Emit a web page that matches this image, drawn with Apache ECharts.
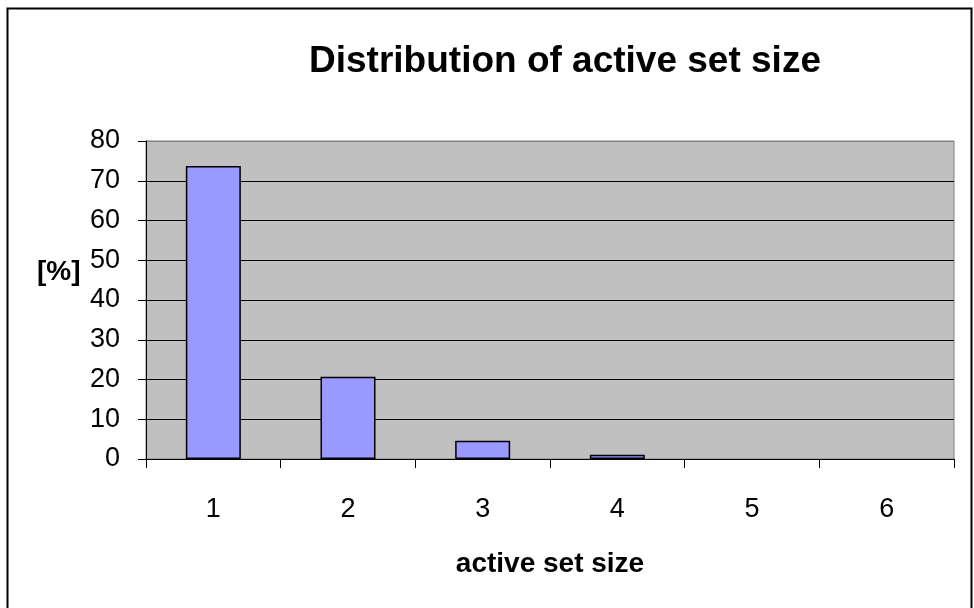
<!DOCTYPE html>
<html>
<head>
<meta charset="utf-8">
<script src="https://cdn.jsdelivr.net/npm/echarts@6/dist/echarts.min.js"></script>
<style>
  html, body { margin: 0; padding: 0; background: #fff; }
  #chart { width: 974px; height: 608px; }
</style>
</head>
<body>
<div id="chart"></div>
<script>
var categories = ['1', '2', '3', '4', '5', '6'];
var shares = [73.7, 20.7, 4.6, 1.1, 0, 0];
var yTicks = [0, 80, 10];

var chart = echarts.init(document.getElementById('chart'));
var font = 'Liberation Sans, Arial, sans-serif';

// zero bars have no visible outline in the original
var barData = shares.map(function (v) {
  return v === 0 ? { value: v, itemStyle: { borderWidth: 0 } } : v;
});

var option = {
  animation: false,
  backgroundColor: '#fff',
  title: {
    text: 'Distribution of active set size',
    left: 560,
    top: 38,
    textAlign: 'center',
    textStyle: { fontFamily: font, fontSize: 37, fontWeight: 'bold', color: '#000' }
  },
  graphic: [
    {
      type: 'rect',
      shape: { x: 7.5, y: 8.5, width: 964, height: 620 },
      style: { fill: 'none', stroke: '#000', lineWidth: 2 },
      z: 100
    },
    {
      type: 'text',
      left: 37,
      top: 258,
      style: { text: '[%]', fontFamily: font, fontSize: 28, fontWeight: 'bold', fill: '#000' }
    }
  ],
  grid: {
    left: 146, top: 141, right: 20, bottom: 149,
    show: true,
    backgroundColor: '#C0C0C0',
    borderColor: '#808080',
    borderWidth: 1
  },
  xAxis: {
    type: 'category',
    data: categories,
    name: 'active set size',
    nameLocation: 'middle',
    nameGap: 91,
    nameTextStyle: { fontFamily: font, fontSize: 28, fontWeight: 'bold', color: '#000' },
    axisLine: { lineStyle: { color: '#000', width: 1 } },
    axisTick: { show: true, interval: 0, length: 9, lineStyle: { color: '#000' } },
    axisLabel: { fontFamily: font, fontSize: 27, color: '#000', margin: 37 },
    splitLine: { show: false }
  },
  yAxis: {
    type: 'value',
    min: yTicks[0],
    max: yTicks[1],
    interval: yTicks[2],
    axisLine: { show: true, lineStyle: { color: '#000', width: 1 } },
    axisTick: { show: true, length: 8, lineStyle: { color: '#000' } },
    axisLabel: { fontFamily: font, fontSize: 27, color: '#000', margin: 26 },
    splitLine: {
      show: true,
      lineStyle: {
        color: ['#000', '#000', '#000', '#000', '#000', '#000', '#000', '#000', '#808080'],
        width: 1
      }
    }
  },
  series: [{
    type: 'bar',
    data: barData,
    barWidth: 55,
    itemStyle: { color: '#9999FF', borderColor: '#000', borderWidth: 1.5 }
  }]
};

chart.setOption(option);
</script>
</body>
</html>
